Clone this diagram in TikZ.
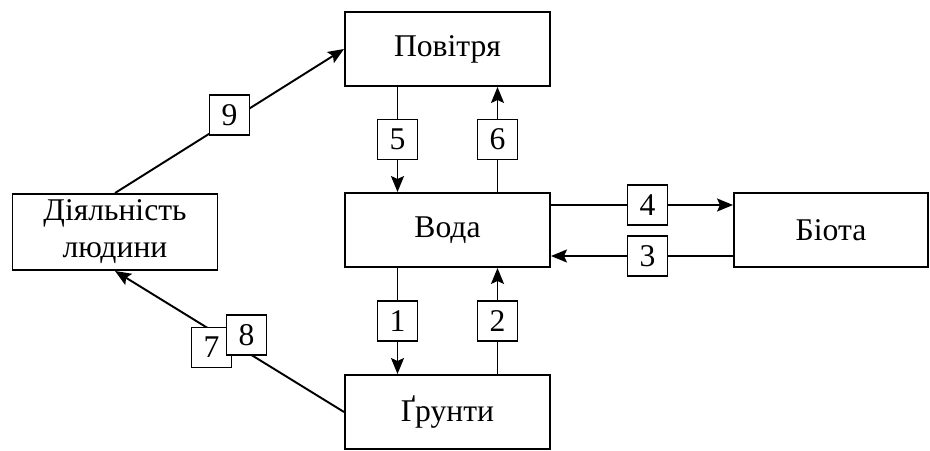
\documentclass[tikz,border=0pt]{standalone}
\usepackage{fontspec}
\setmainfont{Liberation Serif}
\usetikzlibrary{arrows.meta}
\newcommand{\textpov}{Повітря}
\newcommand{\textvoda}{Вода}
\newcommand{\textgrunt}{Ґрунти}
\newcommand{\textbio}{Біота}
\newcommand{\textlud}{Діяльність\\людини}
\newcommand{\boxfont}{\fontsize{18}{21}\selectfont}

\begin{document}
\begin{tikzpicture}[
    any/.style={draw,line width=1.1pt,minimum width=4.1cm,minimum height=1.48cm,%
                align=center,inner sep=2pt,font=\boxfont},
    num/.style={draw,fill=white,line width=1.1pt,minimum size=0.8cm,%
                inner sep=0pt,font=\boxfont},
    flow/.style={line width=1.1pt,-{Stealth[length=3.2mm,width=2.6mm,inset=0.6mm]}}
]
\useasboundingbox (0,0) rectangle (18.6,9);

\node[any] (povitria) at (8.95,8.02) {\textpov};
\node[any] (voda) at (8.95,4.40) {\textvoda};
\node[any] (grunty) at (8.95,0.76) {\textgrunt};
\node[any, minimum width=3.88cm] (biota) at (16.62,4.40) {\textbio};
\node[any, minimum height=1.52cm] (ljudy) at (2.30,4.36) {\textlud};

\draw[flow] ([xshift=-1cm]povitria.south) -- node[num]{5} ([xshift=-1cm]voda.north);
\draw[flow] ([xshift=1cm]voda.north) -- node[num]{6} ([xshift=1cm]povitria.south);
\draw[flow] ([xshift=-1cm]voda.south) -- node[num]{1} ([xshift=-1cm]grunty.north);
\draw[flow] ([xshift=1cm]grunty.north) -- node[num]{2} ([xshift=1cm]voda.south);
\draw[flow] ([yshift=0.5cm]voda.east) -- node[num,pos=0.53]{4} ([yshift=0.5cm]biota.west);
\draw[flow] ([yshift=-0.52cm]biota.west) -- node[num,pos=0.47]{3} ([yshift=-0.52cm]voda.east);

\draw[flow] (ljudy.north) -- node[num,yshift=0.12cm]{9} (povitria.west);

\draw[flow] (grunty.west) -- coordinate[pos=0.5] (mid78) (ljudy.south);
\node[num] (n7) at ([shift={(-0.36,-0.12)}]mid78) {7};
\node[num] (n8) at ([shift={(0.34,0.13)}]mid78) {8};
\end{tikzpicture}
\end{document}
